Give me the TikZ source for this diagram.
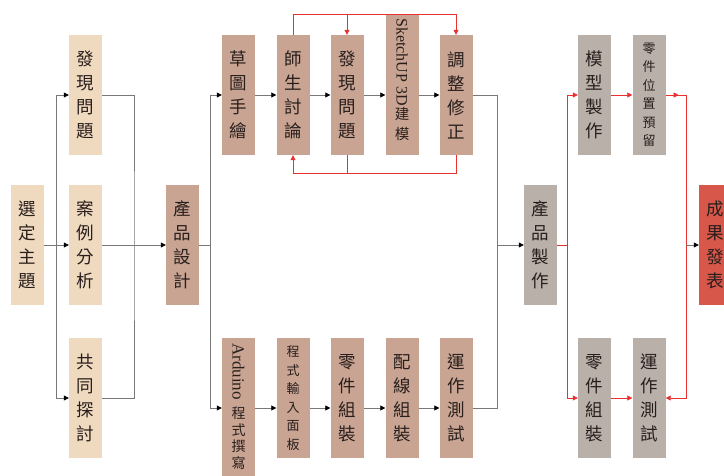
\documentclass[tikz,border=0pt]{standalone}
\usepackage{graphicx}
\usepackage{fontspec}
\setmainfont{Liberation Serif}
\newfontfamily\cjk{Noto Sans CJK TC}
\newfontfamily\lat{Liberation Serif}
\usetikzlibrary{arrows.meta}
\definecolor{beigeb}{RGB}{239,217,191}
\definecolor{tanb}{RGB}{201,164,146}
\definecolor{greyb}{RGB}{186,176,170}
\definecolor{redbox}{RGB}{215,88,74}
\definecolor{lgray}{RGB}{120,120,120}
\definecolor{lred}{RGB}{232,50,50}
\definecolor{txt}{RGB}{40,30,28}
\begin{document}
\begin{tikzpicture}[x=1pt,y=-1pt,
  box/.style={fill=#1, minimum width=33, minimum height=120, inner sep=0, align=center, text=txt, font=\cjk\fontsize{17.5}{24}\selectfont},
  small/.style={font=\cjk\fontsize{13}{18.5}\selectfont},
  label/.style={inner sep=0, align=center, text=txt, anchor=north},
  latlab/.style={label, font=\lat\fontsize{#1}{#1}\selectfont},
  cjklab/.style={label, font=\cjk\fontsize{#1}{#1}\selectfont},
  ln/.style={draw=lgray, line width=0.8pt},
  arr/.style={ln, -{Triangle[length=5pt,width=5pt,color=black]}},
  rln/.style={draw=lred, line width=0.8pt},
  rarr/.style={rln, -{Triangle[length=5pt,width=5pt]}},
]
\useasboundingbox[fill=white] (0,0) rectangle (724,476);

% left column
\node[box=beigeb] (sel) at (27,245) {選\\定\\主\\題};
\node[box=beigeb] (fp)  at (85.5,95) {發\\現\\問\\題};
\node[box=beigeb] (an)  at (85.5,245) {案\\例\\分\\析};
\node[box=beigeb] (gt)  at (85.5,398) {共\\同\\探\\討};
\node[box=tanb]   (pd)  at (182.5,245) {產\\品\\設\\計};

% top row
\node[box=tanb] (sk)  at (238.5,95) {草\\圖\\手\\繪};
\node[box=tanb] (ts)  at (293,95) {師\\生\\討\\論};
\node[box=tanb] (fp2) at (347,95) {發\\現\\問\\題};
\node[box=tanb, minimum height=140] (su) at (402,85) {};
\node[latlab=16] (sut1) at (402,18) {\rotatebox{-90}{SketchUP 3D}};
\node[cjklab=14, font=\cjk\fontsize{14.5}{20}\selectfont] (sut2) at (402,107) {建\\模};
\node[box=tanb] (tz)  at (456,95) {調\\整\\修\\正};

% bottom row
\node[box=tanb, minimum height=150] (ar) at (238.5,413) {};
\node[latlab=17] (art1) at (238.5,343) {\rotatebox{-90}{Arduino}};
\node[cjklab=14, font=\cjk\fontsize{14}{16.5}\selectfont] (art2) at (238.5,407) {程\\式\\撰\\寫};
\node[box=tanb, small] (pi) at (293,398) {程\\式\\輸\\入\\面\\板};
\node[box=tanb] (lj)  at (347,398) {零\\件\\組\\裝};
\node[box=tanb] (px)  at (402,398) {配\\線\\組\\裝};
\node[box=tanb] (yz)  at (456,398) {運\\作\\測\\試};

% right part
\node[box=greyb]  (pm)  at (540.5,245) {產\\品\\製\\作};
\node[box=greyb]  (mx)  at (594.5,95) {模\\型\\製\\作};
\node[box=greyb, small] (lw) at (649,95) {零\\件\\位\\置\\預\\留};
\node[box=greyb]  (lz2) at (594.5,398) {零\\件\\組\\裝};
\node[box=greyb]  (yz2) at (649,398) {運\\作\\測\\試};
\node[box=redbox] (cg)  at (715.5,245) {成\\果\\發\\表};

% helper coordinates
\coordinate (r1) at (0,95);
\coordinate (r2) at (0,408);
\coordinate (rt) at (0,14);
\coordinate (rb) at (0,173);
\coordinate (b1) at (56,245);
\coordinate (m1) at (134,245);
\coordinate (b2) at (210,245);
\coordinate (m2) at (497,245);
\coordinate (b3) at (567,245);
\coordinate (m3) at (686,245);

% left connectors
\draw[arr] (sel.east) -- (an.west);
\draw[arr] (b1) |- (fp.west);
\draw[arr] (b1) |- (gt.west);
\draw[ln] (fp.east) -| (m1) |- (gt.east);
\draw[arr] (an.east) -- (pd.west);
\draw[ln] (pd.east) -- (b2);
\draw[arr] (b2) |- (sk.west);
\draw[arr] (b2) |- (ar.west |- r2);

% top chain
\draw[arr] (sk.east) -- (ts.west);
\draw[arr] (ts.east) -- (fp2.west);
\draw[arr] (fp2.east) -- (su.west |- r1);
\draw[arr] (su.east |- r1) -- (tz.west);
\draw[ln] (tz.east) -| (m2);

% bottom chain
\draw[arr] (ar.east |- r2) -- (pi.west |- r2);
\draw[arr] (pi.east |- r2) -- (lj.west |- r2);
\draw[arr] (lj.east |- r2) -- (px.west |- r2);
\draw[arr] (px.east |- r2) -- (yz.west |- r2);
\draw[ln] (yz.east |- r2) -| (m2);
\draw[arr] (m2) -- (pm.west);

% red feedback loops
\draw[rarr] (ts.north) -- (ts.north |- rt) -| (tz.north);
\draw[rarr] (fp2.north |- rt) -- (fp2.north);
\draw[rln] (fp2.south) -- (fp2.south |- rb);
\draw[rarr] (tz.south) -- (tz.south |- rb) -- (ts.south |- rb) -- (ts.south);

% right connectors
\draw[rln] (pm.east) -- (b3);
\draw[rarr] (b3) |- (mx.west);
\draw[rarr] (b3) |- (lz2.west);
\draw[rarr] (mx.east) -- (lw.west);
\draw[rarr] (lz2.east) -- (yz2.west);
\draw[rln] (lw.east) -| (m3);
\draw[rarr] (lw.east) -- ++(13,0);
\draw[rarr] (m3) |- (yz2.east);
\draw[arr] (m3) -- (cg.west);
\end{tikzpicture}
\end{document}
